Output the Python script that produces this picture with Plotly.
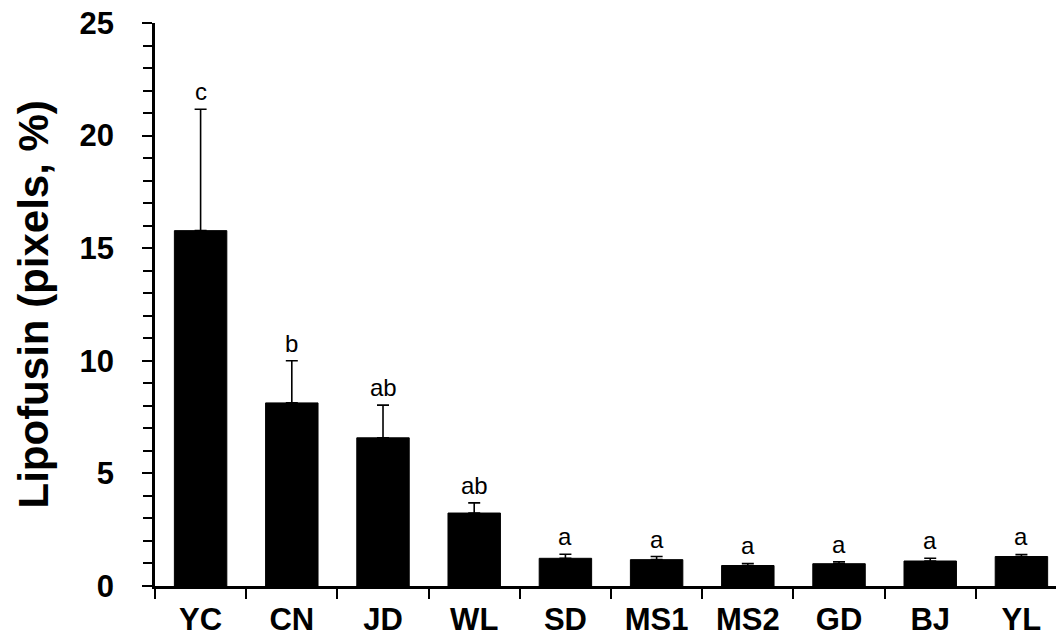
import plotly.graph_objects as go

# Lipofusin content by group: mean, standard error and significance letters
groups = ["YC", "CN", "JD", "WL", "SD", "MS1", "MS2", "GD", "BJ", "YL"]
means = [15.78, 8.13, 6.58, 3.24, 1.23, 1.17, 0.91, 0.99, 1.11, 1.31]
errors = [5.39, 1.87, 1.45, 0.45, 0.18, 0.14, 0.09, 0.08, 0.12, 0.09]
letters = ["c", "b", "ab", "ab", "a", "a", "a", "a", "a", "a"]
y_ticks = [0, 5, 10, 15, 20, 25]

FONT = "Arial, Liberation Sans, sans-serif"

fig = go.Figure()
fig.add_trace(go.Bar(
    x=groups,
    y=means,
    width=0.575,
    marker=dict(color="black", line=dict(color="black", width=1)),
    error_y=dict(
        type="data",
        symmetric=False,
        array=errors,
        arrayminus=[0] * len(errors),
        color="black",
        thickness=1.6,
        width=6,
    ),
    showlegend=False,
))

for g, m, e, t in zip(groups, means, errors, letters):
    fig.add_annotation(
        x=g, y=m + e, text=t, showarrow=False,
        xanchor="center", yanchor="bottom", yshift=2,
        font=dict(family=FONT, size=24, color="black"),
    )

fig.add_annotation(
    xref="paper", yref="paper", x=0, y=0.5,
    xshift=-122, xanchor="center", yanchor="middle",
    text="<b>Lipofusin (pixels, %)</b>", textangle=-90, showarrow=False,
    font=dict(family=FONT, size=42, color="black"),
)

fig.update_layout(
    width=1056, height=641,
    margin=dict(l=155, r=0, t=23, b=55),
    paper_bgcolor="white", plot_bgcolor="white",
    bargap=0.4,
)

fig.update_xaxes(
    type="category",
    range=[-0.5, 9.379],
    showline=True, linecolor="black", linewidth=2.5,
    ticks="outside", tickson="boundaries", ticklen=10, tickwidth=2, tickcolor="black",
    tickfont=dict(family=FONT, size=31, color="black", weight="bold"),
    ticklabelstandoff=4,
    showgrid=False, zeroline=False,
)

fig.update_yaxes(
    range=[0, 25],
    tickvals=y_ticks,
    showline=True, linecolor="black", linewidth=2.5,
    ticks="outside", ticklen=10, tickwidth=2, tickcolor="black",
    minor=dict(dtick=1, ticks="outside", ticklen=9, tickwidth=2, tickcolor="black", showgrid=False),
    tickfont=dict(family=FONT, size=31, color="black", weight="bold"),
    ticklabelstandoff=22,
    showgrid=False, zeroline=False,
)

fig.write_html("out.html")
